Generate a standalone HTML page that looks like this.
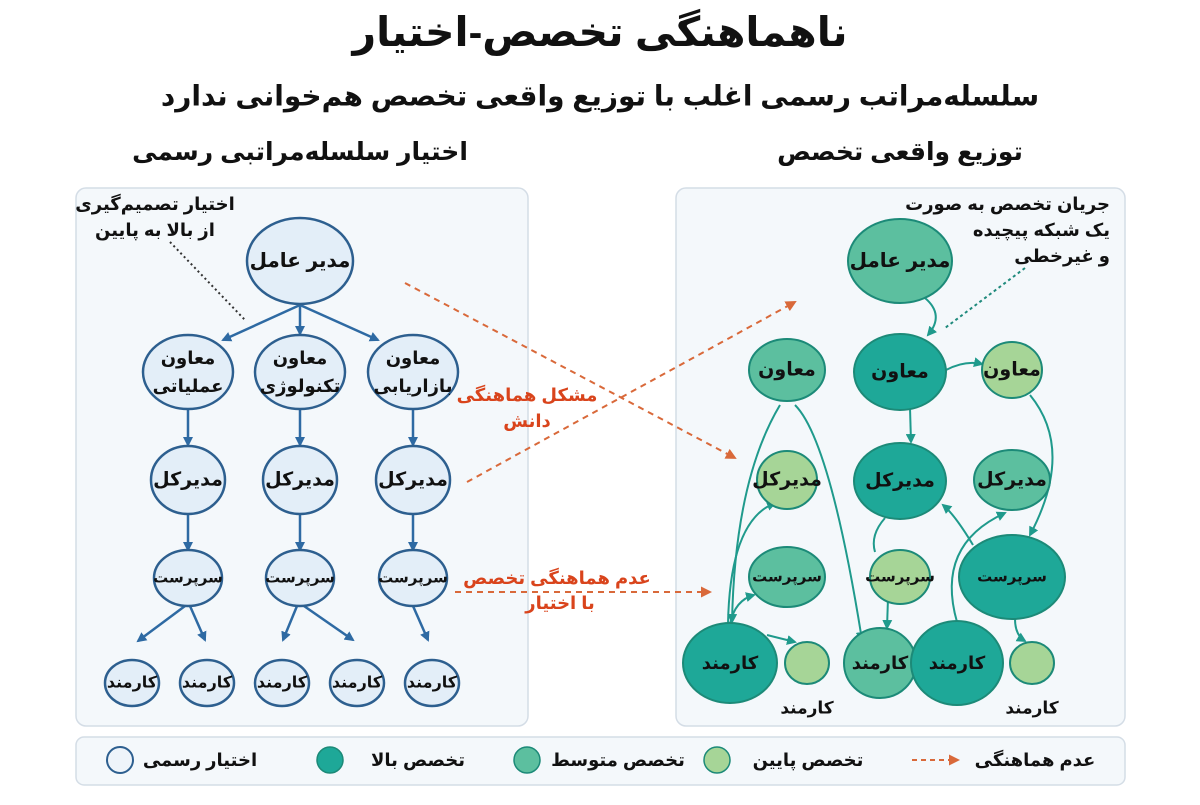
<!DOCTYPE html>
<html><head><meta charset="utf-8"><style>
body{margin:0;background:#fff;width:1200px;height:800px;overflow:hidden}
svg text{font-family:"Liberation Sans","DejaVu Sans",sans-serif;font-weight:bold;text-anchor:middle;dominant-baseline:central}
</style></head><body>
<svg width="1200" height="800" viewBox="0 0 1200 800" xmlns="http://www.w3.org/2000/svg">
<defs>
<marker id="ab" markerWidth="10" markerHeight="10" refX="8" refY="5" orient="auto" markerUnits="userSpaceOnUse"><path d="M0,0 L10,5 L0,10 z" fill="#2e6aa3"/></marker>
<marker id="at" markerWidth="10" markerHeight="10" refX="8" refY="5" orient="auto" markerUnits="userSpaceOnUse"><path d="M0,0 L10,5 L0,10 z" fill="#1f9a8c"/></marker>
<marker id="ao" markerWidth="11" markerHeight="11" refX="9" refY="5.5" orient="auto" markerUnits="userSpaceOnUse"><path d="M0,0 L11,5.5 L0,11 z" fill="#d9693a"/></marker>
</defs>
<text x="600" y="32" font-size="41" fill="#111">ناهماهنگی تخصص-اختیار</text>
<text x="600" y="96" font-size="28" fill="#111">سلسله‌مراتب رسمی اغلب با توزیع واقعی تخصص هم‌خوانی ندارد</text>
<text x="300" y="152" font-size="25" fill="#111">اختیار سلسله‌مراتبی رسمی</text>
<text x="900" y="152" font-size="25" fill="#111">توزیع واقعی تخصص</text>

<rect x="76" y="188" width="452" height="538" rx="10" fill="#f4f8fb" stroke="#d4dde6" stroke-width="1.5"/>
<rect x="676" y="188" width="449" height="538" rx="10" fill="#f4f8fb" stroke="#d4dde6" stroke-width="1.5"/>
<rect x="76" y="737" width="1049" height="48" rx="8" fill="#f4f8fb" stroke="#d4dde6" stroke-width="1.5"/>

<text x="155" y="204" font-size="18" fill="#111">اختیار تصمیم‌گیری</text>
<text x="155" y="230" font-size="18" fill="#111">از بالا به پایین</text>
<line x1="170" y1="242" x2="245" y2="320" stroke="#333" stroke-width="2" stroke-dasharray="2,3"/>

<g stroke="#2e6aa3" stroke-width="2.5" fill="none" marker-end="url(#ab)">
<line x1="300" y1="305" x2="223" y2="340"/>
<line x1="300" y1="305" x2="300" y2="334"/>
<line x1="300" y1="305" x2="378" y2="340"/>
<line x1="188" y1="410" x2="188" y2="445"/><line x1="300" y1="410" x2="300" y2="445"/><line x1="413" y1="410" x2="413" y2="445"/>
<line x1="188" y1="515" x2="188" y2="550"/><line x1="300" y1="515" x2="300" y2="550"/><line x1="413" y1="515" x2="413" y2="550"/>
<line x1="185" y1="606" x2="138" y2="641"/><line x1="190" y1="606" x2="205" y2="640"/>
<line x1="297" y1="606" x2="283" y2="640"/><line x1="304" y1="606" x2="353" y2="640"/>
<line x1="413" y1="606" x2="428" y2="640"/>
</g>
<g fill="#e3eef8" stroke="#2d5f8f" stroke-width="2.5">
<ellipse cx="300" cy="261" rx="53" ry="43"/>
<ellipse cx="188" cy="372" rx="45" ry="37"/><ellipse cx="300" cy="372" rx="45" ry="37"/><ellipse cx="413" cy="372" rx="45" ry="37"/>
<ellipse cx="188" cy="480" rx="37" ry="34"/><ellipse cx="300" cy="480" rx="37" ry="34"/><ellipse cx="413" cy="480" rx="37" ry="34"/>
<ellipse cx="188" cy="578" rx="34" ry="28"/><ellipse cx="300" cy="578" rx="34" ry="28"/><ellipse cx="413" cy="578" rx="34" ry="28"/>
<ellipse cx="132" cy="683" rx="27" ry="23"/><ellipse cx="207" cy="683" rx="27" ry="23"/><ellipse cx="282" cy="683" rx="27" ry="23"/><ellipse cx="357" cy="683" rx="27" ry="23"/><ellipse cx="432" cy="683" rx="27" ry="23"/>
</g>
<g fill="#111">
<text x="300" y="261" font-size="20">مدیر عامل</text>
<text x="188" y="358" font-size="18">معاون</text><text x="188" y="386" font-size="18">عملیاتی</text>
<text x="300" y="358" font-size="18">معاون</text><text x="300" y="386" font-size="18">تکنولوژی</text>
<text x="413" y="358" font-size="18">معاون</text><text x="413" y="386" font-size="18">بازاریابی</text>
<text x="188" y="480" font-size="19">مدیرکل</text><text x="300" y="480" font-size="19">مدیرکل</text><text x="413" y="480" font-size="19">مدیرکل</text>
<text x="188" y="578" font-size="15">سرپرست</text><text x="300" y="578" font-size="15">سرپرست</text><text x="413" y="578" font-size="15">سرپرست</text>
<text x="132" y="683" font-size="16">کارمند</text><text x="207" y="683" font-size="16">کارمند</text><text x="282" y="683" font-size="16">کارمند</text><text x="357" y="683" font-size="16">کارمند</text><text x="432" y="683" font-size="16">کارمند</text>
</g>

<g stroke="#d9693a" stroke-width="2" stroke-dasharray="6,5" fill="none" marker-end="url(#ao)">
<line x1="405" y1="283" x2="735" y2="458"/>
<line x1="467" y1="482" x2="795" y2="302"/>
<line x1="455" y1="592" x2="710" y2="592"/>
</g>
<g fill="#d9441c">
<text x="527" y="395" font-size="18">مشکل هماهنگی</text>
<text x="527" y="421" font-size="18">دانش</text>
<text x="557" y="578" font-size="18">عدم هماهنگی تخصص</text>
<text x="560" y="603" font-size="18">با اختیار</text>
</g>

<text x="1110" y="204" font-size="18" fill="#111" style="text-anchor:end">جریان تخصص به صورت</text>
<text x="1110" y="230" font-size="18" fill="#111" style="text-anchor:end">یک شبکه پیچیده</text>
<text x="1110" y="256" font-size="18" fill="#111" style="text-anchor:end">و غیرخطی</text>
<line x1="1025" y1="268" x2="945" y2="328" stroke="#1f8a7c" stroke-width="2" stroke-dasharray="3,3"/>

<g stroke="#1f9a8c" stroke-width="2" fill="none" marker-end="url(#at)">
<path d="M925,298 Q945,315 928,335"/>
<path d="M946,370 Q965,360 982,364"/>
<path d="M910,408 L911,442"/>
<path d="M1030,395 Q1075,450 1030,535"/>
<path d="M795,405 Q830,440 862,640"/>
<path d="M780,405 Q735,480 732,622"/>
<path d="M728,624 Q730,520 775,503"/>
<path d="M730,624 Q735,600 754,595"/>
<path d="M767,635 L795,642"/>
<path d="M888,598 L887,628"/>
<path d="M973,545 Q955,515 943,505"/>
<path d="M957,622 Q935,545 1005,513"/>
<path d="M1015,619 Q1015,635 1025,641"/>
</g>
<path d="M885,518 Q870,535 875,552" stroke="#1f9a8c" stroke-width="2" fill="none"/>

<g stroke="#1c8a78" stroke-width="2">
<ellipse cx="900" cy="261" rx="52" ry="42" fill="#5cbf9f"/>
<ellipse cx="787" cy="370" rx="38" ry="31" fill="#5cbf9f"/>
<ellipse cx="900" cy="372" rx="46" ry="38" fill="#1ea898"/>
<ellipse cx="1012" cy="370" rx="30" ry="28" fill="#a6d597"/>
<ellipse cx="787" cy="480" rx="30" ry="29" fill="#a6d597"/>
<ellipse cx="900" cy="481" rx="46" ry="38" fill="#1ea898"/>
<ellipse cx="1012" cy="480" rx="38" ry="30" fill="#5cbf9f"/>
<ellipse cx="787" cy="577" rx="38" ry="30" fill="#5cbf9f"/>
<ellipse cx="900" cy="577" rx="30" ry="27" fill="#a6d597"/>
<ellipse cx="1012" cy="577" rx="53" ry="42" fill="#1ea898"/>
<ellipse cx="730" cy="663" rx="47" ry="40" fill="#1ea898"/>
<ellipse cx="807" cy="663" rx="22" ry="21" fill="#a6d597"/>
<ellipse cx="880" cy="663" rx="36" ry="35" fill="#5cbf9f"/>
<ellipse cx="957" cy="663" rx="46" ry="42" fill="#1ea898"/>
<ellipse cx="1032" cy="663" rx="22" ry="21" fill="#a6d597"/>
</g>
<g fill="#111">
<text x="900" y="261" font-size="20">مدیر عامل</text>
<text x="787" y="370" font-size="19">معاون</text><text x="900" y="372" font-size="19">معاون</text><text x="1012" y="370" font-size="19">معاون</text>
<text x="787" y="480" font-size="19">مدیرکل</text><text x="900" y="481" font-size="19">مدیرکل</text><text x="1012" y="480" font-size="19">مدیرکل</text>
<text x="787" y="577" font-size="15">سرپرست</text><text x="900" y="577" font-size="15">سرپرست</text><text x="1012" y="577" font-size="15">سرپرست</text>
<text x="730" y="663" font-size="18">کارمند</text><text x="880" y="663" font-size="18">کارمند</text><text x="957" y="663" font-size="18">کارمند</text>
<text x="807" y="708" font-size="17">کارمند</text><text x="1032" y="708" font-size="17">کارمند</text>
</g>

<circle cx="120" cy="760" r="13" fill="#eef4fa" stroke="#2d5f8f" stroke-width="2"/>
<text x="200" y="760" font-size="18" fill="#111">اختیار رسمی</text>
<circle cx="330" cy="760" r="13" fill="#1ea898" stroke="#1c8a78" stroke-width="1.5"/>
<text x="418" y="760" font-size="18" fill="#111">تخصص بالا</text>
<circle cx="527" cy="760" r="13" fill="#5cbf9f" stroke="#1c8a78" stroke-width="1.5"/>
<text x="618" y="760" font-size="18" fill="#111">تخصص متوسط</text>
<circle cx="717" cy="760" r="13" fill="#a6d597" stroke="#1c8a78" stroke-width="1.5"/>
<text x="808" y="760" font-size="18" fill="#111">تخصص پایین</text>
<line x1="912" y1="760" x2="958" y2="760" stroke="#d9693a" stroke-width="2" stroke-dasharray="5,4" marker-end="url(#ao)"/>
<text x="1035" y="760" font-size="18" fill="#111">عدم هماهنگی</text>
</svg>
</body></html>
